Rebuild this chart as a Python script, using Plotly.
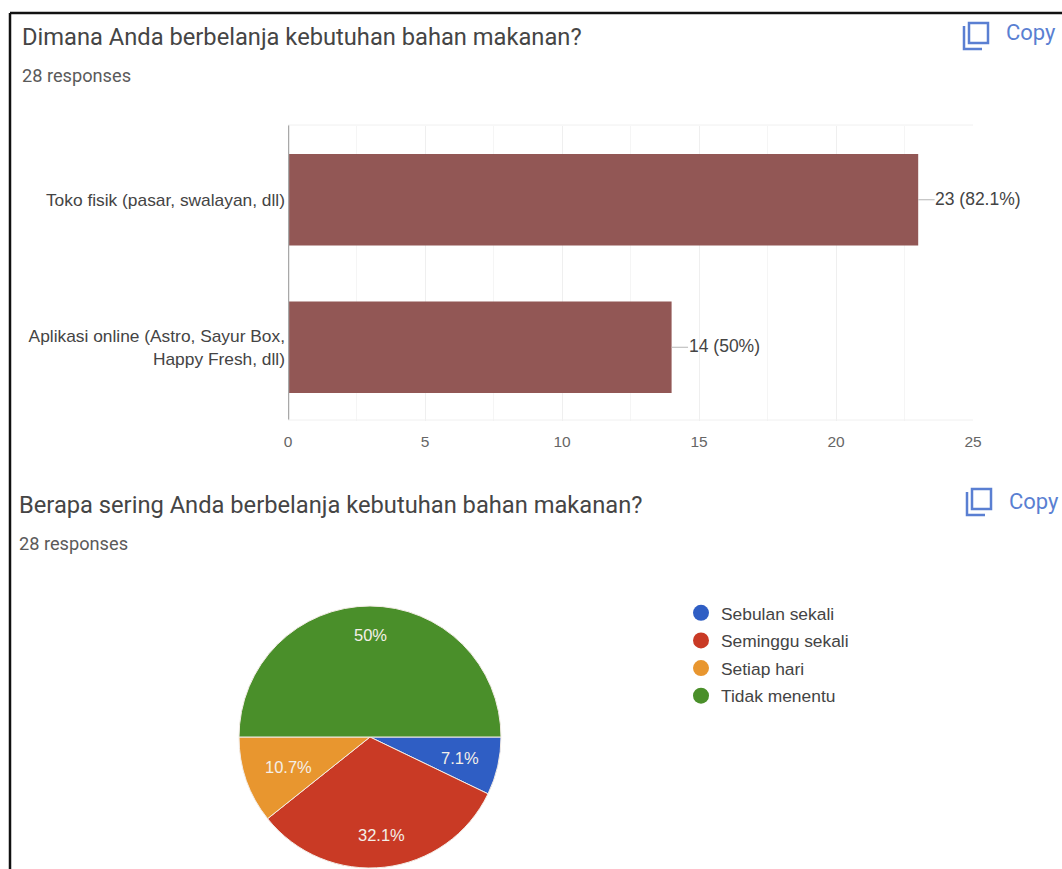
import plotly.graph_objects as go

W, H = 1062, 869

# Data
bar_categories = ["Toko fisik (pasar, swalayan, dll)", "Aplikasi online (Astro, Sayur Box,<br>Happy Fresh, dll)"]
bar_values = [23, 14]
bar_labels = ["23 (82.1%)", "14 (50%)"]
x_ticks = [0, 5, 10, 15, 20, 25]
pie_categories = ["Sebulan sekali", "Seminggu sekali", "Setiap hari", "Tidak menentu"]
pie_values = [2, 9, 3, 14]
pie_colors = ["#2f5ec4", "#c93a25", "#e8962f", "#4a8f2a"]
title_1 = "Dimana Anda berbelanja kebutuhan bahan makanan?"
title_2 = "Berapa sering Anda berbelanja kebutuhan bahan makanan?"
responses = "28 responses"
copy_label = "Copy"
pie_label_pos = [(460, 758), (381, 835), (288, 767), (370, 635)]


def px(x):
    return x / W


def py(y):
    return 1 - y / H


fig = go.Figure()

fig.add_trace(go.Bar(
    y=bar_categories, x=bar_values, orientation="h",
    marker=dict(color="#925755", line=dict(width=0)),
    showlegend=False, hoverinfo="skip",
))

fig.add_trace(go.Pie(
    labels=pie_categories, values=pie_values, sort=False, direction="clockwise", rotation=90,
    marker=dict(colors=pie_colors, line=dict(color="#f3ece6", width=1)),
    textinfo="none",
    domain=dict(x=[px(239), px(501)], y=[py(868), py(606)]),
    showlegend=False, hoverinfo="skip",
))

for name, color in zip(pie_categories, pie_colors):
    fig.add_trace(go.Scatter(
        x=[None], y=[None], mode="markers", name=name, legendgroup=name,
        marker=dict(color=color, size=17, symbol="circle"),
    ))

shapes = [
    dict(type="line", xref="paper", yref="paper", x0=px(10), x1=1, y0=py(13), y1=py(13),
         line=dict(color="#111111", width=2.5)),
    dict(type="line", xref="paper", yref="paper", x0=px(10), x1=px(10), y0=py(13), y1=0,
         line=dict(color="#111111", width=2.5)),
    dict(type="line", xref="x", yref="paper", x0=0, x1=0, y0=py(420), y1=py(125),
         line=dict(color="#a8a8a8", width=2.5)),
    dict(type="line", xref="x", yref="paper", x0=0, x1=25, y0=py(420), y1=py(420),
         line=dict(color="#f0f0f0", width=1)),
    dict(type="line", xref="x", yref="paper", x0=0, x1=25, y0=py(125), y1=py(125),
         line=dict(color="#f0f0f0", width=1)),
]
annotations = []


def text(x, y, s, size, color, family="Roboto", anchor="left"):
    annotations.append(dict(xref="paper", yref="paper", x=px(x), y=py(y), text=s, showarrow=False,
                            xanchor=anchor, yanchor="middle", align=anchor, borderpad=0, borderwidth=0,
                            font=dict(size=size, color=color, family=family)))


def copy_icon(x, y, ty):
    c = "#5a7fd2"
    shapes.append(dict(type="rect", xref="paper", yref="paper", x0=px(x + 6), x1=px(x + 25),
                       y0=py(y + 20), y1=py(y), line=dict(color=c, width=2.5)))
    shapes.append(dict(type="path", xref="paper", yref="paper",
                       path=f"M {px(x + 1)} {py(y + 3)} L {px(x + 1)} {py(y + 26)} L {px(x + 19)} {py(y + 26)}",
                       line=dict(color=c, width=2.5)))
    text(x + 43, ty, copy_label, 22, c)


text(22, 37, title_1, 23.7, "#454545")
text(22, 76, responses, 18.2, "#5a5a5a")
text(19, 505, title_2, 23.7, "#454545")
text(19, 543, responses, 18.2, "#5a5a5a")
copy_icon(963, 23, 33)
copy_icon(966, 489, 501)

total = sum(pie_values)
for v, (lx, ly) in zip(pie_values, pie_label_pos):
    text(lx, ly, f"{100 * v / total:.1f}".removesuffix(".0") + "%", 16.5, "#f4efe8", "Liberation Sans", "center")

for cat, v, lab in zip(bar_categories, bar_values, bar_labels):
    annotations.append(dict(xref="x", yref="y", x=v, y=cat, text=lab,
                            showarrow=False, xanchor="left", xshift=15, yshift=1,
                            font=dict(size=17.5, color="#444444", family="Liberation Sans")))
    shapes.append(dict(type="line", xref="x", yref="y", x0=v, x1=v + 0.6, y0=cat, y1=cat,
                       line=dict(color="#b5b5b5", width=1)))

fig.update_layout(
    width=W, height=H, autosize=False,
    margin=dict(l=0, r=0, t=0, b=0, autoexpand=False),
    paper_bgcolor="white", plot_bgcolor="white",
    font=dict(family="Liberation Sans", color="#444444"),
    bargap=0.38,
    xaxis=dict(domain=[px(288), px(973)], range=[0, 25], tickvals=x_ticks, ticks="",
               showgrid=True, gridcolor="#efefef", gridwidth=1, zeroline=False, showline=False,
               ticklabelstandoff=9,
               tickfont=dict(size=15.5, color="#666666"), minor=dict(showgrid=True, dtick=2.5, gridcolor="#f5f5f5")),
    yaxis=dict(domain=[py(421), py(126)], autorange="reversed", showgrid=False, zeroline=False,
               ticks="", ticklabelstandoff=2, tickfont=dict(size=17.35, color="#444444")),
    legend=dict(x=px(681), y=py(595), xanchor="left", yanchor="top", bgcolor="rgba(0,0,0,0)",
                font=dict(size=17.4, color="#444444", family="Liberation Sans"), tracegroupgap=2,
                itemclick=False, itemdoubleclick=False),
    shapes=shapes, annotations=annotations,
)

fig.write_html("out.html", config=dict(displayModeBar=False),
               post_script="document.body.style.margin='0';document.body.style.overflow='hidden';")
